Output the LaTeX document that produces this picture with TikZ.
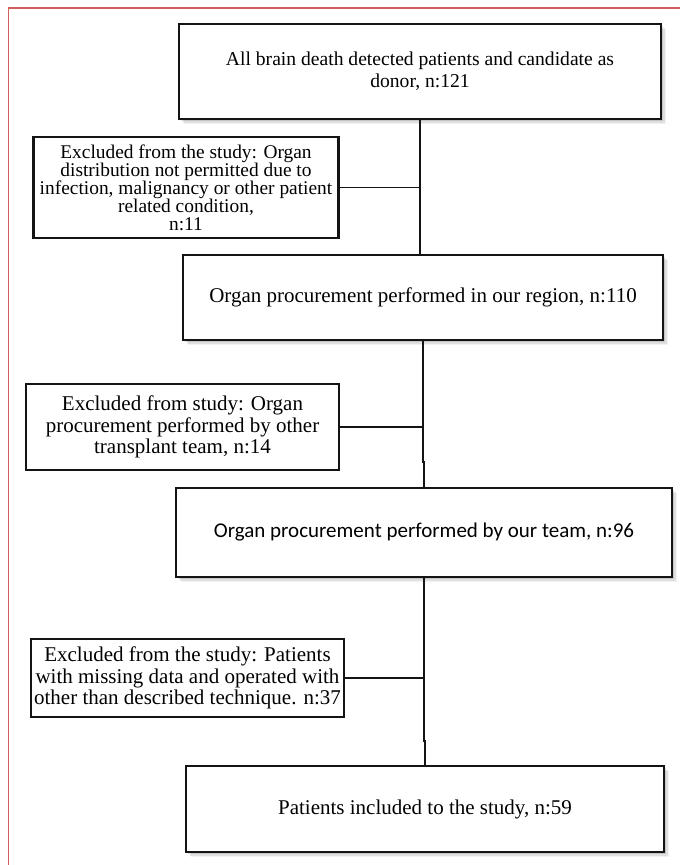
\documentclass[tikz,border=0pt]{standalone}
\usepackage{fontspec}
\setmainfont{Liberation Serif}
\newfontfamily\calibrifont{Carlito}
\usetikzlibrary{calc, shadows}
\definecolor{framered}{HTML}{D0605A}
\definecolor{boxline}{HTML}{141414}

\begin{document}
\begin{tikzpicture}[
  x=1pt, y=-1pt,
  frame/.style={framered, line width=1.7pt},
  softshadow/.style={
    drop shadow={shadow xshift=5pt, shadow yshift=-5pt, fill=black, opacity=0.05},
    drop shadow={shadow xshift=3.5pt, shadow yshift=-3.5pt, fill=black, opacity=0.08},
    drop shadow={shadow xshift=2pt, shadow yshift=-2pt, fill=black, opacity=0.12}},
  box/.style={draw=boxline, line width=2.1pt, fill=white, align=center, inner sep=2pt},
  mainbox/.style={box, softshadow, font=\fontsize{21}{21.5}\selectfont},
  exclbox/.style={box, font=\fontsize{21}{21.5}\selectfont},
  link/.style={boxline, line width=1.9pt},
]
\useasboundingbox (0,0) rectangle (680,865);

% ===== Frame =====
\draw[frame] (8.5,870) -- (8.5,8) -- (690,8);

% ===== Main column =====
\node[mainbox, minimum width=482pt, minimum height=95pt,
  font=\fontsize{19.6}{22}\selectfont] (donors) at (420,71.5)
  {All brain death detected patients and candidate as\\donor, n:121};
\node[mainbox, minimum width=480pt, minimum height=85pt] (region) at (423,297.5)
  {Organ procurement performed in our region, n:110};
\node[mainbox, minimum width=496pt, minimum height=89pt,
  font=\calibrifont\fontsize{21}{21.5}\selectfont] (ourteam) at (424,532.5)
  {Organ procurement performed by our team, n:96};
\node[mainbox, minimum width=478pt, minimum height=86pt] (included) at (425,809)
  {Patients included to the study, n:59};

% ===== Exclusions =====
\node[exclbox, minimum width=305pt, minimum height=101pt,
  font=\fontsize{19.4}{18}\selectfont] (exclA) at (186,187.5)
  {Excluded from the study: Organ\\distribution not permitted due to\\infection, malignancy or other patient\\related condition,\\n:11};
\node[exclbox, minimum width=313pt, minimum height=86pt] (exclB) at (182.5,427)
  {Excluded from study: Organ\\procurement performed by other\\transplant team, n:14};
\node[exclbox, minimum width=313pt, minimum height=78pt] (exclC) at (187.5,678)
  {Excluded from the study: Patients\\with missing data and operated with\\other than described technique. n:37};

% ===== Connectors =====
\draw[link] (donors.south) -- (donors.south |- region.north);
\draw[link] (exclA.east) -- (exclA.east -| donors.south);

\draw[link] (region.south)
  -- ($(region.south)!0.83!(region.south |- ourteam.north)$) -| (ourteam.north);
\draw[link] (exclB.east) -- (exclB.east -| region.south);

\draw[link] (ourteam.south)
  -- ($(ourteam.south)!0.87!(ourteam.south |- included.north)$) -| (included.north);
\draw[link] (exclC.east) -- (exclC.east -| ourteam.south);

\end{tikzpicture}
\end{document}
